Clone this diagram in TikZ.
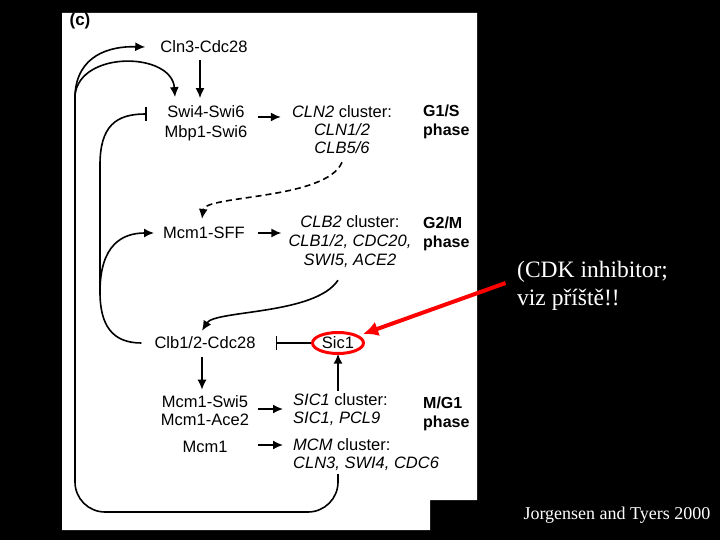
\documentclass[tikz,border=0pt]{standalone}
\usepackage{fontspec}
\setmainfont{Liberation Serif}
\newfontfamily\arialfont{Liberation Sans}
\usetikzlibrary{arrows.meta,shapes.geometric}

\begin{document}
\begin{tikzpicture}[x=1pt,y=-1pt,
  >={Latex[length=10pt,width=9pt]},
  every node/.style={inner sep=3pt},
  prot/.style={font=\arialfont\fontsize{16.5}{19}\selectfont, align=center},
  clus/.style={font=\arialfont\fontsize{16.5}{18}\selectfont, align=center},
  phase/.style={font=\arialfont\bfseries\fontsize{16}{19}\selectfont, align=left, anchor=west},
  link/.style={line width=1.6pt},
  inh/.style={link, -{Bar[width=14pt]}},
  ring/.style={draw=red, line width=3pt}]
\fill[black] (0,0) rectangle (720,540);
\useasboundingbox (0,0) rectangle (720,540);
\fill[white] (62,13) -- (477,13) -- (477,500) -- (430,500) -- (430,530) -- (62,530) -- cycle;

\node[font=\arialfont\bfseries\fontsize{17}{20}\selectfont] (panel) at (80,21) {(c)};

\node[prot] (cln3) at (204,47) {Cln3-Cdc28};
\node[prot, font=\arialfont\fontsize{16.5}{20}\selectfont] (swi4) at (206,123) {Swi4-Swi6\\Mbp1-Swi6};
\node[clus] (cln2) at (342,130) {\textit{CLN2} cluster:\\\textit{CLN1/2}\\\textit{CLB5/6}};
\node[phase] (g1s) at (420,122) {G1/S\\phase};
\node[prot] (sff) at (204,233) {Mcm1-SFF};
\node[clus, font=\arialfont\fontsize{16.5}{19}\selectfont] (clb2) at (350,242) {\textit{CLB2} cluster:\\\textit{CLB1/2, CDC20,}\\\textit{SWI5, ACE2}};
\node[phase] (g2m) at (420,234) {G2/M\\phase};
\node[prot] (clb1) at (205,343) {Clb1/2-Cdc28};
\node[prot, ellipse, minimum width=51pt, minimum height=21pt, inner sep=0pt] (sic1) at (338,343) {Sic1};
\node[prot, font=\arialfont\fontsize{16.5}{18}\selectfont] (swi5) at (205,411) {Mcm1-Swi5\\Mcm1-Ace2};
\node[prot] (mcm1) at (205,447) {Mcm1};
\node[clus, align=left, anchor=west] (sic1c) at (290,410) {\textit{SIC1} cluster:\\\textit{SIC1, PCL9}};
\node[clus, align=left, anchor=west] (mcmc) at (290,455) {\textit{MCM} cluster:\\\textit{CLN3, SWI4, CDC6}};
\node[phase] (mg1) at (420,414) {M/G1\\phase};

\node[white, font=\fontsize{23.5}{28}\selectfont, align=left, anchor=west] (note) at (514,286) {(CDK inhibitor;\\viz příště!!};
\node[white, font=\fontsize{18}{20}\selectfont] (cite) at (617,515) {Jorgensen and Tyers 2000};

\coordinate (fork) at (75,95);
\coordinate (join) at (100,292);
\coordinate (lowr) at (338,512);
\coordinate (lowl) at (75,512);

% feedback loop from the MCM cluster
\draw[link, rounded corners=30pt] (sic1 |- mcmc.south) -- (lowr) -- (lowl) -- (fork);
\draw[link, ->] (fork) .. controls (77,55) and (110,46) .. ([xshift=-12pt]cln3.west);
\draw[link, ->] (fork) .. controls (80,50) and (172,52) .. ([xshift=-31pt,yshift=5pt]swi4.north);
\draw[link, ->, shorten <=4pt, shorten >=4pt] ([xshift=-4pt]cln3.south) -- ([xshift=-4pt]cln3.south |- swi4.north);

% Clb1/2-Cdc28 back to the G1/S factors
\draw[inh] ([xshift=-10pt]clb1.west) .. controls (112,343) and (100,325) .. (join) -- (100,165) .. controls (100,126) and (116,114) .. ([xshift=-15pt,yshift=9pt]swi4.west);
\draw[link, ->] (join) .. controls (100,245) and (122,233) .. ([xshift=-6pt]sff.west);

\draw[link, ->] ([xshift=8pt,yshift=6pt]swi4.east) -- ([xshift=-8pt,yshift=6pt]swi4.east -| cln2.west);
\draw[link, ->, dash pattern=on 6pt off 4pt] ([yshift=-5pt]cln2.south) .. controls (326,200) and (205,195) .. ([xshift=-2pt,yshift=5pt]sff.north);
\draw[link, ->] ([xshift=10pt]sff.east) -- ([xshift=-4pt]sff.east -| clb2.west);
\draw[link, ->] ([xshift=-12pt,yshift=-9pt]clb2.south) .. controls (315,315) and (215,310) .. ([xshift=-3pt,yshift=3pt]clb1.north);

\draw[inh] (sic1.west) -- ([xshift=17pt]clb1.east);
\draw[link, ->] ([xshift=-3pt,yshift=-5pt]clb1.south) -- ([xshift=-3pt,yshift=3pt]clb1.south |- swi5.north);
\draw[link, ->] ([xshift=6pt,yshift=2pt]swi5.east) -- ([xshift=-7pt,yshift=2pt]swi5.east -| sic1c.west);
\draw[link, ->] ([xshift=6pt,yshift=2pt]swi5.east |- mcm1) -- ([xshift=-7pt,yshift=2pt]mcm1 -| mcmc.west);
\draw[link, ->] (sic1 |- sic1c.north) -- (sic1.south);

\draw[ring] (sic1.center) ellipse [x radius=25.5pt, y radius=10.5pt];
\draw[red, line width=4pt, -{Latex[length=15pt,width=15pt]}, shorten <=9pt, shorten >=6pt] ([yshift=6pt]note.west) -- (sic1);
\end{tikzpicture}
\end{document}
